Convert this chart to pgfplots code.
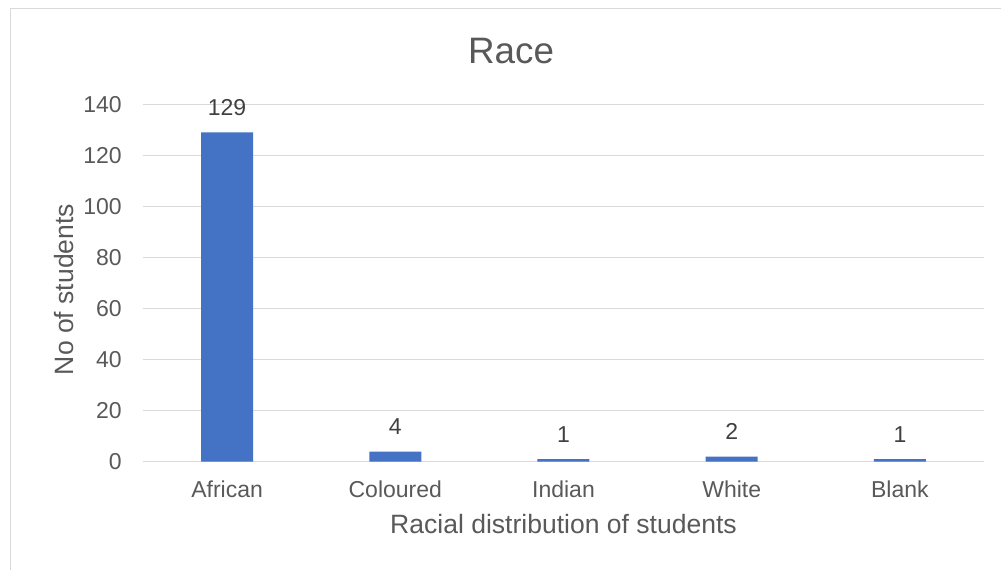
\documentclass[border=0pt]{standalone}
\usepackage{pgfplots}
\pgfplotsset{compat=1.18}
\usepackage{fontspec}
\setmainfont{Liberation Sans}
\definecolor{barblue}{HTML}{4472C4}
\definecolor{txtgray}{HTML}{595959}
\definecolor{lblgray}{HTML}{404040}
\definecolor{gridgray}{HTML}{D9D9D9}
\begin{document}
\begin{tikzpicture}[x=0.75pt,y=0.75pt]
\useasboundingbox (0,0) rectangle (1001,570);
% chart frame (left and top edges)
\draw[gridgray, line width=0.9pt] (10.5,0) -- (10.5,561.5) -- (1001,561.5);
\begin{axis}[
  at={(107.25pt,81.2pt)}, anchor=south west,
  scale only axis,
  width=630.75pt, height=268.05pt,
  xmin=-0.5, xmax=4.5,
  ymin=0, ymax=140,
  ytick={0,20,...,140},
  xtick=data,
  xticklabels={African,Coloured,Indian,White,Blank},
  major tick length=0pt,
  axis line style={draw=none},
  ymajorgrids,
  grid style={gridgray, line width=0.9pt},
  /pgf/number format/assume math mode=true,
  tick label style={font=\fontsize{17.25}{20}\selectfont, text=txtgray, inner sep=0pt},
  xticklabel style={anchor=base, yshift=-26.85pt},
  yticklabel style={anchor=east, xshift=-15.75pt},
  every axis title shift=0pt,
  title={Race},
  title style={at={(axis description cs:0.4376,1.1156)}, anchor=base,
    font=\fontsize{27.6}{32}\selectfont, text=txtgray, inner sep=0pt},
  xlabel={Racial distribution of students},
  xlabel style={at={(axis description cs:0.5,-0.2003)}, anchor=base,
    font=\fontsize{19.9}{24}\selectfont, text=txtgray, inner sep=0pt},
  ylabel={No of students},
  ylabel style={at={(axis description cs:-0.0832,0.4818)}, anchor=base,
    font=\fontsize{19.9}{24}\selectfont, text=txtgray, inner sep=0pt},
  ybar, bar width=39pt,
  nodes near coords,
  every node near coord/.append style={anchor=base, inner sep=0pt, yshift=12.75pt,
    font=\fontsize{17.25}{20}\selectfont, text=lblgray},
]
\addplot[fill=barblue, draw=none] coordinates {(0,129) (1,4) (2,1) (3,2) (4,1)};
\end{axis}
\end{tikzpicture}
\end{document}
